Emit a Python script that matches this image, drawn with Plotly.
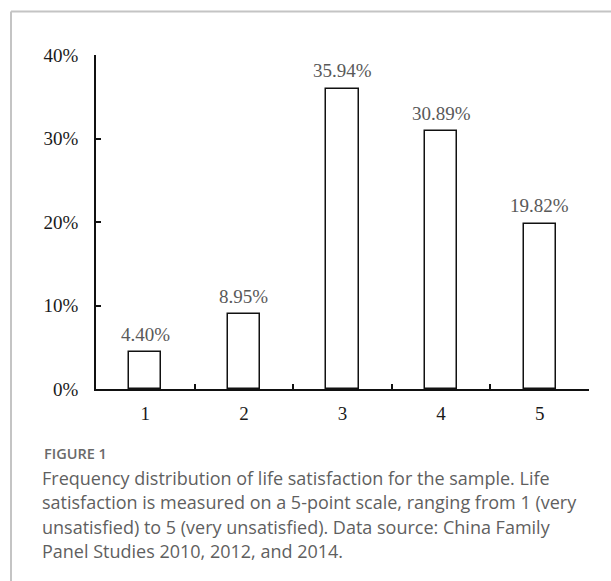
import plotly.graph_objects as go

categories = ["1", "2", "3", "4", "5"]
values = [4.40, 8.95, 35.94, 30.89, 19.82]
value_labels = ["4.40%", "8.95%", "35.94%", "30.89%", "19.82%"]
y_ticks = [0, 10, 20, 30, 40]
y_tick_labels = ["0%", "10%", "20%", "30%", "40%"]

caption_title = "FIGURE 1"
caption_lines = [
    "Frequency distribution of life satisfaction for the sample. Life",
    "satisfaction is measured on a 5-point scale, ranging from 1 (very",
    "unsatisfied) to 5 (very unsatisfied). Data source: China Family",
    "Panel Studies 2010, 2012, and 2014.",
]

W, H = 611, 581
L, R, T, B = 96, 589, 54.5, 389  # plot area in px
pw, ph = R - L, B - T

def px_x(x):
    return (x - L) / pw

def px_y(y):
    return (B - y) / ph

fig = go.Figure()
fig.add_trace(go.Bar(
    x=categories, y=values, width=0.325,
    marker=dict(color="white", line=dict(color="#111111", width=1.5)),
    hoverinfo="skip",
))

serif = "Liberation Serif, Times New Roman, serif"
for i, (v, t) in enumerate(zip(values, value_labels)):
    fig.add_annotation(x=i, y=v, text=t, showarrow=False, yanchor="middle",
                       yshift=18, font=dict(family=serif, size=19, color="#595959"))

# caption
fig.add_annotation(xref="paper", yref="paper", x=px_x(42), y=px_y(454),
                   xanchor="left", yanchor="middle", text=caption_title, showarrow=False,
                   font=dict(family="Open Sans", size=14.5, color="#6a6a6a", weight=600))
for i, line in enumerate(caption_lines):
    fig.add_annotation(xref="paper", yref="paper", x=px_x(40), y=px_y(478 + 24.5 * i),
                       xanchor="left", yanchor="middle", text=line, showarrow=False,
                       font=dict(family="Open Sans", size=18, color="#5f5f5f"))

# frame lines (top and left)
fig.add_shape(type="line", xref="paper", yref="paper", x0=px_x(11), x1=px_x(W + 5),
              y0=px_y(11), y1=px_y(11), line=dict(color="#c4c4c4", width=2))
fig.add_shape(type="line", xref="paper", yref="paper", x0=px_x(11), x1=px_x(11),
              y0=px_y(11), y1=px_y(H + 5), line=dict(color="#c4c4c4", width=2))

fig.update_layout(
    width=W, height=H,
    margin=dict(l=L, r=W - R, t=T, b=H - B, pad=0),
    paper_bgcolor="white", plot_bgcolor="white",
    showlegend=False,
    bargap=0,
    xaxis=dict(type="category", tickson="boundaries", ticks="inside", ticklen=5,
               tickwidth=1.5, tickcolor="#111111", showline=True, linecolor="#111111",
               linewidth=1.5, showgrid=False, zeroline=False,
               tickfont=dict(family=serif, size=19, color="#1a1a1a"),
               ticklabelstandoff=6, range=[-0.5, 4.5]),
    yaxis=dict(range=[0, 40], tickvals=y_ticks, ticktext=y_tick_labels, ticks="inside",
               ticklen=5, tickwidth=1.5, tickcolor="#111111", showline=True,
               linecolor="#111111", linewidth=1.5, showgrid=False, zeroline=False,
               tickfont=dict(family=serif, size=19, color="#1a1a1a"),
               ticklabelstandoff=12),
)

fig.write_html("out.html", config={"displayModeBar": False},
               post_script="document.body.style.margin='0';")
